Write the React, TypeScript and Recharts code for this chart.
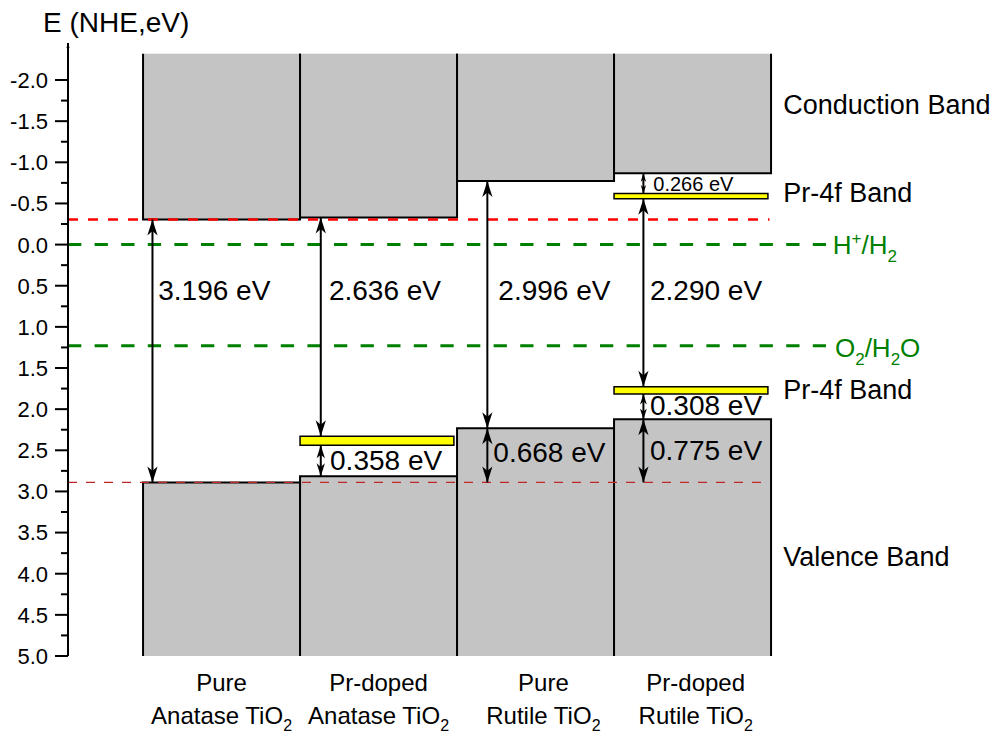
import { ComposedChart, ReferenceArea, ReferenceDot, ReferenceLine, XAxis, YAxis } from 'recharts'

// category labels (second line gets a subscript 2)
const CATEGORY_TOP = ['Pure', 'Pr-doped', 'Pure', 'Pr-doped']
const CATEGORY_BOTTOM = ['Anatase TiO', 'Anatase TiO', 'Rutile TiO', 'Rutile TiO']

// band edges, E vs NHE (eV)
const CB_EDGE = [-0.306, -0.33, -0.773, -0.866]
const VB_EDGE = [2.89, 2.815, 2.232, 2.123]

// Pr-4f levels
const PR_COLUMN = [1, 3, 3]
const PR_TOP = [2.33, -0.62, 1.727]
const PR_BOTTOM = [2.44, -0.558, 1.815]

// gap arrows
const GAP_COLUMN = [0, 1, 1, 2, 2, 3, 3, 3, 3]
const GAP_FROM = [-0.306, -0.33, 2.44, -0.773, 2.232, -0.866, -0.558, 1.815, 2.123]
const GAP_TO = [2.89, 2.33, 2.815, 2.232, 2.89, -0.62, 1.727, 2.123, 2.89]
const GAP_LABEL = ['3.196 eV', '2.636 eV', '0.358 eV', '2.996 eV', '0.668 eV', '0.266 eV', '2.290 eV', '0.308 eV', '0.775 eV']

// redox levels
const H2_LEVEL = 0
const O2_LEVEL = 1.23

const SIDE_LABEL = ['Conduction Band', 'Pr-4f Band', 'Pr-4f Band', 'Valence Band']

const MAJOR_TICKS = [-2, -1.5, -1, -0.5, 0, 0.5, 1, 1.5, 2, 2.5, 3, 3.5, 4, 4.5, 5]
const MINOR_TICKS = [-1.75, -1.25, -0.75, -0.25, 0.25, 0.75, 1.25, 1.75, 2.25, 2.75, 3.25, 3.75, 4.25, 4.75]

// layout
const X_DOMAIN = [-0.478, 4.35]
const Y_DOMAIN = [-2.45, 5]
const BAND_TOP = -2.32
const CATEGORY_TICKS = [0.5, 1.5, 2.55, 3.52]
const ARROW_X = [0.06, 0.132, 0.132, 0.193, 0.193, 0.187, 0.187, 0.187, 0.187]
const LABEL_X = [0.097, 1.184, 1.191, 2.263, 2.231, 3.25, 3.229, 3.229, 3.229]
const LABEL_Y = [0.673, 0.673, 2.739, 0.673, 2.638, -0.655, 0.673, 2.071, 2.618]
const SIDE_X = 4.078
const SIDE_Y = [-1.587, -0.521, 1.877, 3.906]

const FONT = 'Liberation Sans, Arial, sans-serif'
const GREY = '#c4c4c4'
const GREEN = '#008000'

function head(tx: number, ty: number, dx: number, dy: number, len: number, w: number) {
  const bx = tx - dx * len
  const by = ty - dy * len
  const nx = -dy
  const ny = dx
  const mx = tx - dx * len * 0.72
  const my = ty - dy * len * 0.72
  return `M${tx},${ty}L${bx + nx * w},${by + ny * w}L${mx},${my}L${bx - nx * w},${by - ny * w}Z`
}

const arrowShape = (both: boolean) => (p: any) => {
  const { x1, y1, x2, y2 } = p
  const dist = Math.hypot(x2 - x1, y2 - y1) || 1
  const dx = (x2 - x1) / dist
  const dy = (y2 - y1) / dist
  const len = Math.min(16, dist * 0.42)
  const w = len * 0.32
  return (
    <g>
      <line x1={x1} y1={y1} x2={x2} y2={y2} stroke="#000" strokeWidth={2} />
      <path d={head(x2, y2, dx, dy, len, w)} fill="#000" />
      {both && <path d={head(x1, y1, -dx, -dy, len, w)} fill="#000" />}
    </g>
  )
}

const bandShape = (edge: 'top' | 'bottom') => (p: any) => {
  const { x, y, width, height } = p
  const d =
    edge === 'bottom'
      ? `M${x},${y}V${y + height}H${x + width}V${y}`
      : `M${x},${y + height}V${y}H${x + width}V${y + height}`
  return (
    <g>
      <rect x={x} y={y} width={width} height={height} fill={GREY} />
      <path d={d} fill="none" stroke="#000" strokeWidth={2} />
    </g>
  )
}

const YTick = (p: any) => {
  const v = Number(p.payload.value)
  const major = Math.abs(v * 2 - Math.round(v * 2)) < 1e-6
  return (
    <g>
      <line x1={p.x - (major ? 13 : 7)} x2={p.x} y1={p.y} y2={p.y} stroke="#000" strokeWidth={2} />
      {major && (
        <text x={p.x - 20} y={p.y} dy="0.36em" textAnchor="end" fontSize={22} fontFamily={FONT} fill="#000">
          {v.toFixed(1)}
        </text>
      )}
    </g>
  )
}

const XTick = (p: any) => {
  const i = Math.floor(Number(p.payload.value))
  return (
    <g fontFamily={FONT} fontSize={24} fill="#000">
      <text x={p.x} y={p.y + 35} textAnchor="middle">
        {CATEGORY_TOP[i]}
      </text>
      <text x={p.x} y={p.y + 68} textAnchor="middle">
        {CATEGORY_BOTTOM[i]}
        <tspan fontSize={16} dy={7}>2</tspan>
      </text>
    </g>
  )
}

const textAt = (content: any, size: number, color = '#000') => (p: any) => (
  <text x={p.cx} y={p.cy} fontSize={size} fontFamily={FONT} fill={color}>
    {content}
  </text>
)

export default function App() {
  const data = CB_EDGE.map((cb, i) => ({ x: i + 0.5, cb, vb: VB_EDGE[i] }))

  return (
    <div style={{ position: 'absolute', left: 0, top: 0, width: 995, height: 736, background: '#fff' }}>
      <ComposedChart width={995} height={736} data={data} margin={{ top: 43, right: 169, bottom: 0, left: 0 }}>
        <XAxis
          type="number"
          dataKey="x"
          domain={X_DOMAIN}
          allowDataOverflow
          ticks={CATEGORY_TICKS}
          interval={0}
          axisLine={false}
          tickLine={false}
          tickSize={0}
          tickMargin={0}
          height={80}
          tick={<XTick />}
        />
        <YAxis
          type="number"
          domain={Y_DOMAIN}
          allowDataOverflow
          reversed
          ticks={[...MAJOR_TICKS, ...MINOR_TICKS].sort((a, b) => a - b)}
          interval={0}
          width={68}
          tickLine={false}
          tickSize={0}
          tickMargin={0}
          axisLine={{ stroke: '#000', strokeWidth: 2 }}
          tick={<YTick />}
        />

        {CB_EDGE.map((cb, i) => (
          <ReferenceArea key={`cb${i}`} x1={i} x2={i + 1} y1={BAND_TOP} y2={cb} ifOverflow="visible" shape={bandShape('bottom')} />
        ))}
        {VB_EDGE.map((vb, i) => (
          <ReferenceArea key={`vb${i}`} x1={i} x2={i + 1} y1={vb} y2={Y_DOMAIN[1]} ifOverflow="visible" shape={bandShape('top')} />
        ))}
        {PR_COLUMN.map((c, i) => (
          <ReferenceArea
            key={`pr${i}`}
            x1={c}
            x2={c + 0.98}
            y1={PR_TOP[i]}
            y2={PR_BOTTOM[i]}
            ifOverflow="visible"
            fill="#ffff00"
            fillOpacity={1}
            stroke="#000"
            strokeWidth={1.5}
          />
        ))}

        <ReferenceLine
          segment={[{ x: X_DOMAIN[0], y: CB_EDGE[0] }, { x: 3.99, y: CB_EDGE[0] }]}
          stroke="#ff0000"
          strokeWidth={2.5}
          strokeDasharray="10 10"
          ifOverflow="visible"
        />
        <ReferenceLine
          segment={[{ x: X_DOMAIN[0], y: VB_EDGE[0] }, { x: 3.99, y: VB_EDGE[0] }]}
          stroke="#c02828"
          strokeWidth={1.2}
          strokeDasharray="9 9"
          ifOverflow="visible"
        />
        <ReferenceLine y={H2_LEVEL} stroke={GREEN} strokeWidth={3} strokeDasharray="13.3 13.3" ifOverflow="visible" />
        <ReferenceLine y={O2_LEVEL} stroke={GREEN} strokeWidth={3} strokeDasharray="13.3 13.3" ifOverflow="visible" />

        <ReferenceLine
          segment={[{ x: X_DOMAIN[0], y: -2.3 }, { x: X_DOMAIN[0], y: Y_DOMAIN[0] }]}
          ifOverflow="visible"
          shape={arrowShape(false)}
        />
        {GAP_COLUMN.map((c, i) => (
          <ReferenceLine
            key={`gap${i}`}
            segment={[{ x: c + ARROW_X[i], y: GAP_FROM[i] }, { x: c + ARROW_X[i], y: GAP_TO[i] }]}
            ifOverflow="visible"
            shape={arrowShape(true)}
          />
        ))}

        {GAP_LABEL.map((label, i) => (
          <ReferenceDot
            key={`gl${i}`}
            x={LABEL_X[i]}
            y={LABEL_Y[i]}
            r={0}
            ifOverflow="visible"
            shape={textAt(label, label === '0.266 eV' ? 20 : 28)}
          />
        ))}
        {SIDE_LABEL.map((label, i) => (
          <ReferenceDot key={`sl${i}`} x={SIDE_X} y={SIDE_Y[i]} r={0} ifOverflow="visible" shape={textAt(label, 27)} />
        ))}
        <ReferenceDot
          x={4.393}
          y={0.114}
          r={0}
          ifOverflow="visible"
          shape={textAt(
            <>
              H<tspan dy={-10} fontSize={17}>+</tspan>
              <tspan dy={10}>/H</tspan>
              <tspan dy={8} fontSize={17}>2</tspan>
            </>,
            26,
            GREEN,
          )}
        />
        <ReferenceDot
          x={4.407}
          y={1.362}
          r={0}
          ifOverflow="visible"
          shape={textAt(
            <>
              O<tspan dy={8} fontSize={17}>2</tspan>
              <tspan dy={-8}>/H</tspan>
              <tspan dy={8} fontSize={17}>2</tspan>
              <tspan dy={-8}>O</tspan>
            </>,
            26,
            GREEN,
          )}
        />
        <ReferenceDot x={-0.637} y={-2.584} r={0} ifOverflow="visible" shape={textAt('E (NHE,eV)', 28)} />
      </ComposedChart>
    </div>
  )
}
